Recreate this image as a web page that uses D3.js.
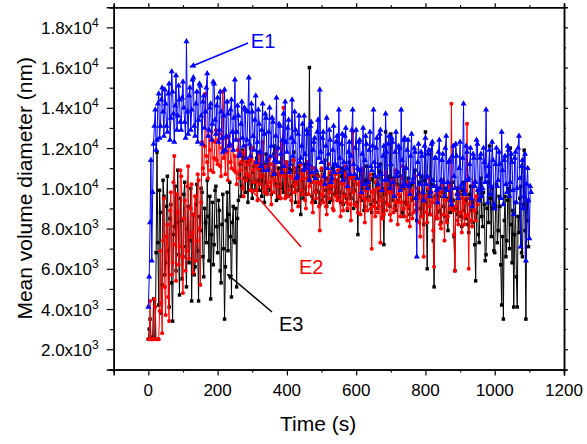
<!DOCTYPE html>
<html>
<head>
<meta charset="utf-8">
<script src="https://cdn.jsdelivr.net/npm/d3@7"></script>
<style>
body { margin: 0; background: #fff; }
svg { display: block; }
text { font-family: "Liberation Sans", Arial, sans-serif; }
</style>
</head>
<body>
<svg id="chart" width="587" height="444"></svg>
<script>
// sampling interval of the three runs (s)
var step = 2.5;

// E1 - blue, t = 0 ... 1105 s (one row = 50 s)
var e1 = [
  4100, 5600, 8300, 11400, 6400, 9800, 12200, 13100, 13900, 11900, 12400, 14200, 14700, 12500, 13100, 14400, 15000, 13800, 12600, 14900,
  14200, 13100, 12800, 14700, 15200, 12400, 13500, 15800, 14800, 13700, 12300, 14100, 15600, 12900, 13600, 15100, 14400, 13300, 12900, 14500,
  15300, 14000, 13300, 12500, 17300, 13800, 12700, 14600, 15000, 12900, 13900, 15400, 15500, 13100, 12600, 14200, 14800, 12300, 13400, 15200,
  15100, 13600, 12200, 14300, 14600, 13000, 13800, 15000, 15700, 12600, 12900, 14000, 14200, 12400, 13200, 15300, 15200, 13400, 12700, 14100,
  14500, 12300, 12900, 14800, 13800, 12500, 11800, 13600, 14900, 11900, 12600, 14300, 13700, 12100, 12200, 13900, 14400, 12800, 11900, 13500,
  15400, 12400, 12800, 14100, 13600, 11600, 11700, 13200, 14300, 12500, 12100, 14000, 13900, 11500, 12400, 13800, 15500, 12200, 11600, 14200,
  13800, 12600, 11900, 13400, 14600, 11300, 12300, 13900, 13200, 11800, 11100, 12900, 14200, 10900, 12700, 13700, 13500, 11400, 10900, 12800,
  14000, 11600, 12100, 13500, 13300, 10700, 11400, 12600, 14500, 11300, 12000, 13200, 13100, 11700, 10800, 12400, 13700, 11100, 14300, 12300,
  11800, 13000, 13400, 10800, 11200, 12500, 14400, 11600, 12300, 13800, 12900, 10500, 10600, 12700, 13600, 11300, 11500, 12100, 13200, 10900,
  13600, 11700, 11000, 12900, 12700, 11200, 10400, 13100, 13300, 10800, 11900, 12300, 12500, 10500, 10900, 12800, 13400, 11500, 14900, 11800,
  11300, 12500, 12800, 10600, 10200, 12100, 13500, 11000, 11700, 12900, 12400, 10300, 10500, 11900, 13100, 10800, 11200, 12300, 12600, 11100,
  13900, 11500, 10800, 12200, 12700, 10400, 11300, 12600, 13000, 11000, 10100, 11800, 12300, 10700, 11600, 12900, 13900, 11200, 10700, 12000,
  12900, 10500, 11000, 12300, 12400, 10900, 9800, 11700, 13000, 10200, 11400, 12600, 12200, 10000, 10300, 11900, 12800, 11100, 10900, 12100,
  13900, 11300, 10600, 12000, 12500, 10200, 11100, 12700, 12900, 10700, 9900, 11600, 12100, 10400, 13700, 11800, 10400, 12200, 12600, 10000,
  11200, 12500, 12300, 10300, 9600, 11800, 12800, 10600, 10800, 12100, 12000, 9900, 13900, 11400, 10100, 12400, 12500, 10200, 11000, 11900,
  12400, 10100, 9700, 11600, 12700, 10300, 10500, 12000, 11800, 9500, 6600, 11300, 12200, 10700, 10200, 11800, 11600, 9800, 9400, 12100,
  12500, 10200, 10600, 11700, 11900, 9600, 9800, 12200, 12300, 10400, 10100, 11500, 11500, 9900, 9300, 11800, 12400, 10000, 10400, 11400,
  11700, 10300, 9600, 12000, 12600, 9900, 10300, 11300, 11400, 9400, 9200, 11600, 12100, 10600, 10000, 12200, 11600, 9700, 9500, 11000,
  12300, 10000, 10200, 11500, 14200, 9800, 9700, 12100, 11800, 10400, 10500, 11200, 12000, 9500, 9100, 11700, 11500, 10100, 10300, 12400,
  12200, 9900, 9400, 11500, 11700, 9600, 10000, 12000, 11300, 10300, 13900, 10600, 9300, 11100, 11900, 9700, 10100, 12300, 11400, 9200,
  9000, 11200, 12000, 10100, 10400, 11800, 11200, 9500, 12800, 10900, 9200, 11400, 11600, 10200, 9800, 12100, 11900, 9600, 10300, 11700,
  11300, 9900, 8700, 11500, 11800, 9300, 10000, 12000, 12600, 10500, 7100, 11100, 11400, 9000, 9600, 11700, 6400, 10200, 11000, 9400,
  7500, 10100, 9800
];

// E2 - red, t = 0 ... 950 s
var e2 = [
  2500, 2500, 4400, 2500, 2500, 2500, 2500, 4500, 4100, 2500, 2500, 2500, 2500, 3900, 6900, 4300, 2800, 7400, 9500, 5100,
  3700, 7600, 8200, 4600, 3400, 8900, 9800, 5700, 6300, 10300, 11600, 7200, 5400, 9700, 8800, 6200, 7100, 10900, 10600, 6600,
  4800, 8500, 9400, 5900, 6900, 10100, 11100, 6500, 7600, 9000, 10200, 7800, 5800, 8700, 9600, 6400, 7400, 10700, 10400, 8000,
  5200, 9300, 12300, 11000, 10700, 12100, 14700, 11600, 11300, 10500, 12600, 11900, 10900, 12800, 12400, 10800, 11500, 12300, 12900, 11400,
  11200, 12400, 12700, 11100, 10600, 12000, 14800, 11500, 11900, 10700, 12500, 11800, 10400, 12600, 12200, 11300, 11000, 12100, 12800, 10900,
  11600, 10800, 10200, 11900, 12400, 10500, 10900, 11300, 11800, 10000, 9600, 11700, 12100, 10400, 10700, 11200, 11400, 10600, 9900, 11500,
  12000, 10900, 10300, 11300, 11200, 9900, 9400, 11000, 11700, 10200, 10600, 11600, 12300, 10000, 9800, 11100, 11000, 9700, 10100, 11400,
  11500, 10300, 9200, 11200, 10900, 9800, 10400, 11600, 11900, 10100, 9600, 10800, 10700, 9500, 12300, 10900, 14000, 10600, 9500, 11300,
  11100, 9600, 9900, 10800, 10600, 9400, 8900, 10500, 11400, 9800, 10200, 11000, 10800, 9100, 9300, 10400, 11200, 9900, 9700, 10700,
  10500, 9400, 9000, 10900, 11300, 9700, 10100, 11100, 10700, 9300, 8800, 10300, 11000, 9800, 9500, 10600, 10300, 9100, 7900, 10200,
  11000, 9700, 9300, 10600, 10400, 9100, 8700, 10100, 11200, 9500, 9800, 10800, 10100, 9000, 8900, 10400, 10700, 9600, 9400, 10900,
  10900, 9400, 8600, 10300, 10200, 8900, 9600, 10700, 11100, 9300, 9000, 10000, 10500, 9200, 8400, 10600, 12800, 9800, 9200, 10400,
  10600, 9100, 8800, 10200, 10300, 8700, 9700, 10800, 11000, 9500, 8300, 9900, 10100, 8900, 9400, 10500, 10700, 9000, 7000, 9800,
  9900, 9100, 8600, 10300, 10500, 8800, 9100, 10000, 7300, 9400, 10200, 8500, 8700, 9900, 10800, 8900, 9200, 10400, 9800, 8700,
  8400, 9800, 10400, 8800, 9000, 10200, 10900, 9300, 8200, 9700, 10000, 8600, 9300, 10500, 11100, 9000, 8600, 10100, 9700, 8400,
  10300, 9100, 8100, 9800, 9900, 8500, 8800, 10400, 10600, 9200, 8900, 10000, 9500, 8300, 7600, 9700, 10200, 8600, 6600, 9400,
  9600, 8800, 8300, 10000, 10500, 9100, 8700, 9800, 9300, 7900, 6100, 9500, 10100, 8600, 8500, 9900, 9800, 8200, 8000, 10200,
  10400, 8700, 7400, 9600, 9400, 8300, 8600, 10100, 10200, 9000, 14200, 9300, 8900, 7700, 5900, 9100, 9700, 8400, 8200, 10000,
  10000, 8800, 7800, 9500, 9300, 8200, 8600, 9900, 13200, 8700, 6000, 9200, 9500, 8400, 8100, 10100, 10300, 8900, 8400, 9600,
  9200
];

// E3 - black, t = 0 ... 1097.5 s
var e3 = [
  2500, 3000, 3500, 2500, 2500, 2600, 4500, 2500, 2500, 6800, 11800, 7300, 4200, 9900, 8800, 3800, 5200, 10400, 9600, 5700,
  6300, 9100, 10600, 6900, 4100, 8500, 9200, 5300, 3400, 7700, 8100, 10100, 5900, 8300, 10900, 6700, 4700, 9500, 8400, 5500,
  6600, 9700, 10300, 7100, 5100, 8000, 9100, 6300, 7400, 10000, 4400, 7800, 8700, 5700, 6100, 9200, 10200, 6900, 4400, 8600,
  7900, 10000, 9800, 6600, 5600, 9000, 8300, 7300, 10400, 8600, 6400, 9600, 4500, 7700, 9300, 6200, 7200, 9900, 10100, 8100,
  6800, 9400, 8900, 5900, 5300, 8200, 9700, 7000, 3500, 6100, 8400, 9800, 6900, 8700, 10300, 7600, 4600, 8300, 9100, 7400,
  7300, 9000, 5100, 8500, 9400, 10700, 11200, 9600, 10100, 11900, 11600, 10500, 9800, 11000, 11300, 9300, 10400, 11400, 12000, 10200,
  9500, 10800, 11100, 9900, 10300, 11500, 11800, 10400, 9900, 10900, 11400, 9600, 10600, 11200, 9300, 10300, 11700, 9800, 10000, 11000,
  11200, 9900, 9700, 10600, 10800, 11700, 12100, 10200, 9400, 10700, 11000, 9500, 10200, 11300, 11500, 10000, 9800, 11100, 10700, 9600,
  11300, 10100, 9600, 11000, 10900, 9700, 10100, 11400, 11800, 10300, 9300, 10800, 10500, 9900, 11100, 10400, 8700, 10900, 10400, 9500,
  11200, 10000, 9700, 11300, 10800, 10500, 16000, 10900, 10300, 9600, 9400, 10600, 11000, 9300, 9900, 10700, 10600, 9800, 9200, 10300,
  10900, 9400, 9600, 10700, 11400, 9900, 9100, 10500, 10300, 9300, 10700, 10000, 9400, 11000, 11200, 9700, 9800, 10400, 10000, 9500,
  10800, 9800, 9300, 10600, 11000, 9200, 9700, 10900, 10500, 9500, 8900, 10300, 11300, 9700, 9500, 10500, 10200, 9000, 9900, 10600,
  10600, 9300, 7700, 10200, 10900, 9600, 9400, 10700, 10000, 8900, 9100, 10400, 11100, 9500, 9600, 10100, 10400, 9200, 8800, 10500,
  10700, 9400, 9300, 10300, 10100, 9000, 9800, 10800, 11200, 9600, 8500, 10000, 7200, 9700, 12800, 9300, 9900, 10600, 10500, 9100,
  12700, 9800, 9400, 10500, 10300, 9100, 8900, 10200, 10800, 9400, 9600, 10600, 10100, 8800, 8600, 10000, 11000, 9300, 9200, 10300,
  10500, 9000, 8700, 10100, 10200, 9400, 9500, 10600, 10900, 8900, 8400, 9700, 9800, 10300, 9000, 8600, 10600, 9500, 8200, 10400,
  12800, 9300, 6000, 9900, 9700, 8700, 11900, 10200, 9300, 7400, 5100, 9600, 10100, 8500, 8800, 10000, 9600, 8900, 8300, 9800,
  10400, 9100, 8600, 10000, 9900, 8400, 7900, 9500, 10200, 8800, 9100, 10300, 9400, 7600, 5900, 9000, 10000, 8700, 8800, 9800,
  9700, 8600, 8100, 9900, 10300, 8900, 8500, 9400, 9500, 8200, 7800, 9700, 10100, 8900, 8300, 9300, 9400, 7200, 5400, 8800,
  9900, 7700, 7300, 9400, 10500, 8600, 8100, 9800, 9200, 6400, 6700, 9000, 10300, 8300, 12100, 9500, 7600, 10000, 9000, 6900,
  6800, 9100, 10200, 7300, 7900, 9600, 9100, 6200, 4200, 7600, 3500, 8400, 9600, 6600, 7400, 9400, 10000, 7000, 12000, 8200,
  6300, 8900, 4100, 7700, 9300, 5600, 4100, 8600, 7800, 9500, 10100, 6800, 6600, 9200, 11900, 7900, 3500, 8400, 9400, 7100
];

var xMajor = [0, 200, 400, 600, 800, 1000, 1200];
var xMinor = [-100, 100, 300, 500, 700, 900, 1100];
var yMajor = [2000, 4000, 6000, 8000, 10000, 12000, 14000, 16000, 18000];
var yMinor = [1000, 3000, 5000, 7000, 9000, 11000, 13000, 15000, 17000, 19000];

var margin = {top: 7.2, right: 23, bottom: 74.6, left: 113.7};
var width = 587, height = 444;
var _width = width - margin.left - margin.right;
var _height = height - margin.top - margin.bottom;

var x = d3.scaleLinear().domain([-100, 1200]).range([0, _width]);
var y = d3.scaleLinear().domain([1000, 19000]).range([_height, 0]);

var svg = d3.select("#chart");
var defs = svg.append("defs");
function arrowHead(id, color) {
  defs.append("marker")
    .attr("id", id)
    .attr("viewBox", "0 0 10 10")
    .attr("refX", 9).attr("refY", 5)
    .attr("markerWidth", 7).attr("markerHeight", 6)
    .attr("markerUnits", "userSpaceOnUse")
    .attr("orient", "auto")
    .append("path")
    .attr("d", "M0,0 L10,5 L0,10 z")
    .attr("fill", color);
}
arrowHead("headBlue", "#0000ff");
arrowHead("headBlack", "#000000");
arrowHead("headRed", "#ff0000");

var g = svg.append("g")
  .attr("transform", "translate(" + margin.left + "," + margin.top + ")");

function toPoints(arr) {
  return arr.map(function(v, i) { return {t: i * step, v: v}; });
}

var line = d3.line()
  .x(function(d) { return x(d.t); })
  .y(function(d) { return y(d.v); });

function drawSeries(arr, color, shape, size) {
  var pts = toPoints(arr);
  g.append("path")
    .datum(pts)
    .attr("d", line)
    .attr("fill", "none")
    .attr("stroke", color)
    .attr("stroke-width", 1);
  g.append("g").selectAll("path")
    .data(pts)
    .enter()
    .append("path")
    .attr("d", d3.symbol().type(shape).size(size))
    .attr("transform", function(d) { return "translate(" + x(d.t) + "," + y(d.v) + ")"; })
    .attr("fill", color);
}

drawSeries(e3, "#000000", d3.symbolSquare, 12);
drawSeries(e2, "#ff0000", d3.symbolCircle, 13);
drawSeries(e1, "#0000ff", d3.symbolTriangle, 16);

// axes (ticks point outward, labels drawn separately)
function addAxis(axis, tr) {
  var a = g.append("g").attr("transform", tr).call(axis);
  a.select(".domain").attr("stroke-width", 1.5);
  a.selectAll(".tick line").attr("stroke-width", 1.2);
  return a;
}
addAxis(d3.axisBottom(x).tickValues(xMajor).tickSize(6).tickFormat(""), "translate(0," + _height + ")");
addAxis(d3.axisBottom(x).tickValues(xMinor).tickSize(3).tickFormat(""), "translate(0," + _height + ")");
addAxis(d3.axisTop(x).tickValues(xMajor).tickSize(4).tickFormat(""), "translate(0,0)");
addAxis(d3.axisTop(x).tickValues(xMinor).tickSize(2).tickFormat(""), "translate(0,0)");
addAxis(d3.axisLeft(y).tickValues(yMajor).tickSize(7).tickFormat(""), "translate(0,0)");
addAxis(d3.axisLeft(y).tickValues(yMinor).tickSize(4).tickFormat(""), "translate(0,0)");
addAxis(d3.axisRight(y).tickValues(yMajor).tickSize(4).tickFormat(""), "translate(" + _width + ",0)");
addAxis(d3.axisRight(y).tickValues(yMinor).tickSize(2).tickFormat(""), "translate(" + _width + ",0)");

// x tick labels
g.append("g").selectAll("text")
  .data(xMajor)
  .enter()
  .append("text")
  .attr("x", function(d) { return x(d); })
  .attr("y", _height + 27)
  .attr("text-anchor", "middle")
  .attr("font-size", "17px")
  .attr("fill", "#000")
  .text(function(d) { return d; });

// y tick labels as a.bx10^n
var yl = g.append("g").selectAll("text")
  .data(yMajor)
  .enter()
  .append("text")
  .attr("x", -15)
  .attr("y", function(d) { return y(d) + 6.5; })
  .attr("text-anchor", "end")
  .attr("font-size", "17px")
  .attr("fill", "#000");
yl.append("tspan").text(function(d) {
  var e = Math.floor(Math.log10(d));
  return (d / Math.pow(10, e)).toFixed(1) + "x10";
});
yl.append("tspan")
  .attr("dy", -7)
  .attr("font-size", "12px")
  .text(function(d) { return Math.floor(Math.log10(d)); });

// axis titles
g.append("text")
  .attr("x", x(490))
  .attr("y", _height + 62)
  .attr("text-anchor", "middle")
  .attr("font-size", "21px")
  .text("Time (s)");

g.append("text")
  .attr("transform", "translate(" + (32 - margin.left) + "," + (_height / 2) + ") rotate(-90)")
  .attr("text-anchor", "middle")
  .attr("font-size", "21px")
  .text("Mean volume diameter (nm)");

// series labels with pointers
function label(txt, color, tx, ty, x1, y1, x2, y2, head) {
  g.append("line")
    .attr("x1", x(x1)).attr("y1", y(y1))
    .attr("x2", x(x2)).attr("y2", y(y2))
    .attr("stroke", color)
    .attr("stroke-width", 1.5)
    .attr("marker-end", "url(#" + head + ")");
  g.append("text")
    .attr("x", x(tx)).attr("y", y(ty))
    .attr("font-size", "20px")
    .attr("fill", color)
    .text(txt);
}
label("E1", "#0000ff", 296, 16970, 288, 17220, 120, 16030, "headBlue");
label("E2", "#ff0000", 435, 5740, 441, 7080, 293, 10010, "headRed");
label("E3", "#000000", 377, 2915, 357, 3850, 228, 5730, "headBlack");
</script>
</body>
</html>
